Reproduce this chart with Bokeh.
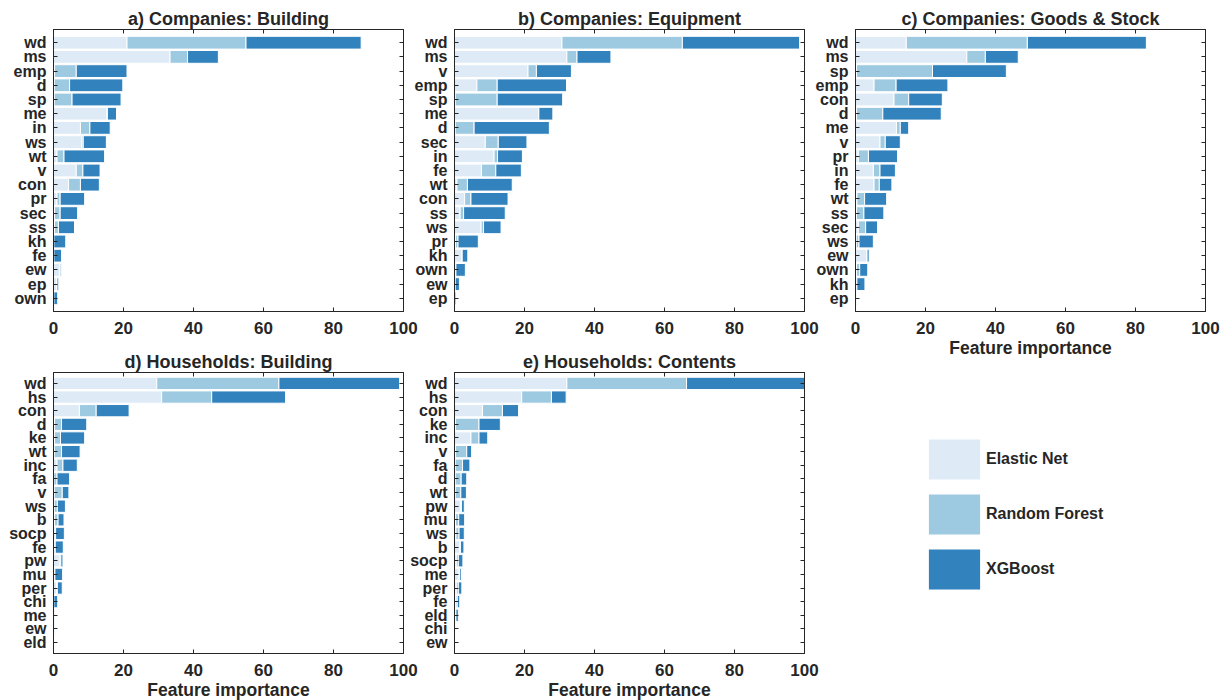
from bokeh.plotting import figure
from bokeh.models import Range1d, FixedTicker, LinearAxis, ColumnDataSource, Legend, LegendItem
from bokeh.layouts import column, row
from bokeh.embed import file_html
from bokeh.resources import INLINE

# ---------------- data ----------------
models = ["Elastic Net", "Random Forest", "XGBoost"]
xticks = [0, 20, 40, 60, 80, 100]

feat_a = ["wd", "ms", "emp", "d", "sp", "me", "in", "ws", "wt", "v", "con", "pr", "sec", "ss", "kh", "fe", "ew", "ep", "own"]
en_a = [21.0, 33.3, 0.3, 0.2, 0.2, 15.3, 7.7, 8.1, 1.0, 6.5, 4.3, 1.0, 0.3, 0.3, 0.0, 0.0, 1.8, 1.0, 0.0]
rf_a = [34.0, 5.0, 6.2, 4.4, 5.1, 0.1, 2.7, 0.4, 2.0, 1.9, 3.4, 0.9, 1.6, 1.1, 0.1, 0.1, 0.1, 0.0, 0.1]
xgb_a = [32.9, 8.8, 14.5, 15.2, 14.0, 2.6, 5.8, 6.6, 11.6, 4.9, 5.4, 7.0, 5.0, 4.6, 3.4, 2.2, 0.3, 0.5, 1.1]

feat_b = ["wd", "ms", "v", "emp", "sp", "me", "d", "sec", "in", "fe", "wt", "con", "ss", "ws", "pr", "kh", "own", "ew", "ep"]
en_b = [30.7, 32.1, 21.0, 6.4, 0.2, 24.0, 0.2, 8.8, 11.3, 7.7, 0.7, 2.9, 1.6, 7.6, 0.3, 2.1, 0.2, 0.1, 0.0]
rf_b = [34.4, 2.9, 2.4, 5.8, 12.0, 0.1, 5.4, 3.7, 1.0, 4.1, 3.0, 1.8, 1.0, 0.7, 0.7, 0.1, 0.2, 0.1, 0.0]
xgb_b = [33.5, 9.7, 10.0, 19.8, 18.7, 4.0, 21.5, 8.2, 7.1, 7.3, 12.8, 10.6, 11.9, 5.0, 5.8, 1.6, 2.7, 1.2, 0.4]

feat_c = ["wd", "ms", "sp", "emp", "con", "d", "me", "v", "pr", "in", "fe", "wt", "ss", "sec", "ws", "ew", "own", "kh", "ep"]
en_c = [14.5, 31.8, 0.3, 5.3, 11.0, 0.3, 11.7, 7.0, 0.8, 5.1, 5.3, 0.4, 0.3, 0.8, 0.2, 3.2, 0.3, 0.1, 0.0]
rf_c = [34.6, 5.3, 21.7, 6.3, 4.2, 7.5, 1.1, 1.5, 2.9, 1.9, 1.5, 2.2, 2.1, 2.1, 0.8, 0.1, 0.9, 0.3, 0.0]
xgb_c = [34.0, 9.4, 21.1, 14.8, 9.6, 16.7, 2.4, 4.3, 8.3, 4.4, 3.6, 6.3, 5.7, 3.4, 4.1, 0.6, 2.3, 2.3, 0.3]

feat_d = ["wd", "hs", "con", "d", "ke", "wt", "inc", "fa", "v", "ws", "b", "socp", "fe", "pw", "mu", "per", "chi", "me", "ew", "eld"]
en_d = [29.5, 30.9, 7.4, 0.3, 0.3, 0.2, 1.0, 0.1, 0.2, 0.2, 0.3, 0.2, 0.2, 1.9, 0.2, 0.9, 0.0, 0.0, 0.0, 0.0]
rf_d = [34.9, 14.3, 4.8, 2.0, 1.7, 2.1, 1.7, 0.9, 2.3, 0.9, 1.0, 0.4, 0.3, 0.2, 0.2, 0.2, 0.1, 0.0, 0.0, 0.0]
xgb_d = [34.5, 21.1, 9.4, 7.2, 6.9, 5.3, 4.1, 3.6, 1.9, 2.3, 1.7, 2.5, 2.3, 0.6, 2.2, 1.4, 1.1, 0.2, 0.2, 0.05]

feat_e = ["wd", "hs", "con", "ke", "inc", "v", "fa", "d", "wt", "pw", "mu", "ws", "b", "socp", "me", "per", "fe", "eld", "chi", "ew"]
en_e = [32.1, 19.2, 8.0, 0.3, 4.7, 0.3, 0.2, 0.2, 0.2, 1.7, 0.3, 0.4, 1.5, 0.5, 1.3, 0.5, 0.4, 0.3, 0.1, 0.0]
rf_e = [34.2, 8.5, 5.7, 6.7, 2.3, 3.2, 2.1, 1.7, 1.6, 0.3, 0.9, 0.9, 0.2, 0.6, 0.2, 0.6, 0.4, 0.1, 0.1, 0.05]
xgb_e = [33.7, 4.2, 4.6, 6.1, 2.5, 1.4, 2.1, 1.6, 1.6, 0.8, 1.7, 1.5, 1.0, 1.3, 0.5, 1.0, 0.7, 0.7, 0.1, 0.05]

# ---------------- style ----------------
FONT = "Liberation Sans"
TXT = "#262626"
COLORS = ["#deebf7", "#9ecae1", "#3182bd"]


def hidden_axis(ticks):
    return LinearAxis(ticker=FixedTicker(ticks=ticks), major_label_text_font_size="1px",
                      major_label_text_color=None, major_label_standoff=0,
                      major_tick_in=4, major_tick_out=0,
                      minor_tick_line_color=None, axis_line_color=TXT,
                      major_tick_line_color=TXT)


def panel(title, feats, en, rf, xgb, pad, fh, left, right, top, bottom, xlabel=None):
    n = len(feats)
    ys = list(range(1, n + 1))
    src = ColumnDataSource(dict(y=ys, en=en, rf=rf, xgb=xgb))
    p = figure(frame_width=350, frame_height=fh,
               x_range=Range1d(0, 100), y_range=Range1d(n + pad, 1 - pad),
               output_backend="svg", toolbar_location=None,
               min_border_left=left, min_border_right=right,
               min_border_top=top, min_border_bottom=bottom,
               border_fill_color=None, background_fill_color="white",
               outline_line_color=TXT, outline_line_width=1)
    p.grid.visible = False
    p.hbar_stack(["en", "rf", "xgb"], y="y", height=0.9, color=COLORS,
                 line_color="white", line_width=1, source=src)

    p.title.text = title
    p.title.align = "center"
    p.title.text_font = FONT
    p.title.text_font_size = "18px"
    p.title.text_font_style = "bold"
    p.title.text_color = TXT
    p.title.standoff = 1

    xa = p.xaxis[0]
    xa.ticker = FixedTicker(ticks=xticks)
    xa.major_label_text_font = FONT
    xa.major_label_text_font_size = "17px"
    xa.major_label_text_font_style = "bold"
    xa.major_label_text_color = TXT
    xa.major_label_standoff = 10
    xa.major_tick_in = 4
    xa.major_tick_out = 0
    xa.minor_tick_line_color = None
    xa.axis_line_color = TXT
    xa.major_tick_line_color = TXT
    if xlabel:
        xa.axis_label = xlabel
        xa.axis_label_text_font = FONT
        xa.axis_label_text_font_size = "17.5px"
        xa.axis_label_text_font_style = "bold"
        xa.axis_label_text_color = TXT
        xa.axis_label_standoff = 1

    ya = p.yaxis[0]
    ya.ticker = FixedTicker(ticks=ys)
    ya.major_label_overrides = {y: f for y, f in zip(ys, feats)}
    ya.major_label_text_font = FONT
    ya.major_label_text_font_size = "16px"
    ya.major_label_text_font_style = "bold"
    ya.major_label_text_color = TXT
    ya.major_label_standoff = 7
    ya.major_tick_in = 4
    ya.major_tick_out = 0
    ya.minor_tick_line_color = None
    ya.axis_line_color = TXT
    ya.major_tick_line_color = TXT

    p.add_layout(hidden_axis(xticks), "above")
    p.add_layout(hidden_axis(ys), "right")
    return p


pa = panel("a) Companies: Building", feat_a, en_a, rf_a, xgb_a, 0.93, 282, 53, 18, 29, 30)
pb = panel("b) Companies: Equipment", feat_b, en_b, rf_b, xgb_b, 0.93, 282, 46, 18, 29, 30)
pc = panel("c) Companies: Goods & Stock", feat_c, en_c, rf_c, xgb_c, 0.93, 282, 46, 16, 29, 46,
           "Feature importance")
pd_ = panel("d) Households: Building", feat_d, en_d, rf_d, xgb_d, 0.8, 281, 53, 18, 31, 46,
            "Feature importance")
pe = panel("e) Households: Contents", feat_e, en_e, rf_e, xgb_e, 0.8, 281, 46, 18, 31, 46,
           "Feature importance")

# ---------------- legend panel ----------------
lg = figure(width=412, height=342, x_range=Range1d(0, 1), y_range=Range1d(0, 1),
            output_backend="svg", toolbar_location=None, min_border=0,
            outline_line_color=None, border_fill_color=None, background_fill_color=None)
lg.axis.visible = False
lg.grid.visible = False
items = []
for name, col in zip(models, COLORS):
    # zero-width proxy bar: only used to give the legend its swatch
    r = lg.hbar(y=[1], left=[1], right=[1], height=0.01, fill_color=col, line_color=None)
    items.append(LegendItem(label=name, renderers=[r]))
legend = Legend(items=items, location=(67, 108), padding=0, margin=0,
                border_line_color=None, background_fill_alpha=0,
                glyph_width=64, glyph_height=50, spacing=5, label_standoff=-6,
                label_text_font=FONT, label_text_font_size="16px",
                label_text_font_style="bold", label_text_color=TXT)
lg.add_layout(legend)

layout = row(column(pa, pd_),
             column(pb, pe, margin=(0, 0, 0, -14)),
             column(pc, lg, margin=(0, 0, 0, -13)))

open("out.html", "w").write(file_html(layout, INLINE))
